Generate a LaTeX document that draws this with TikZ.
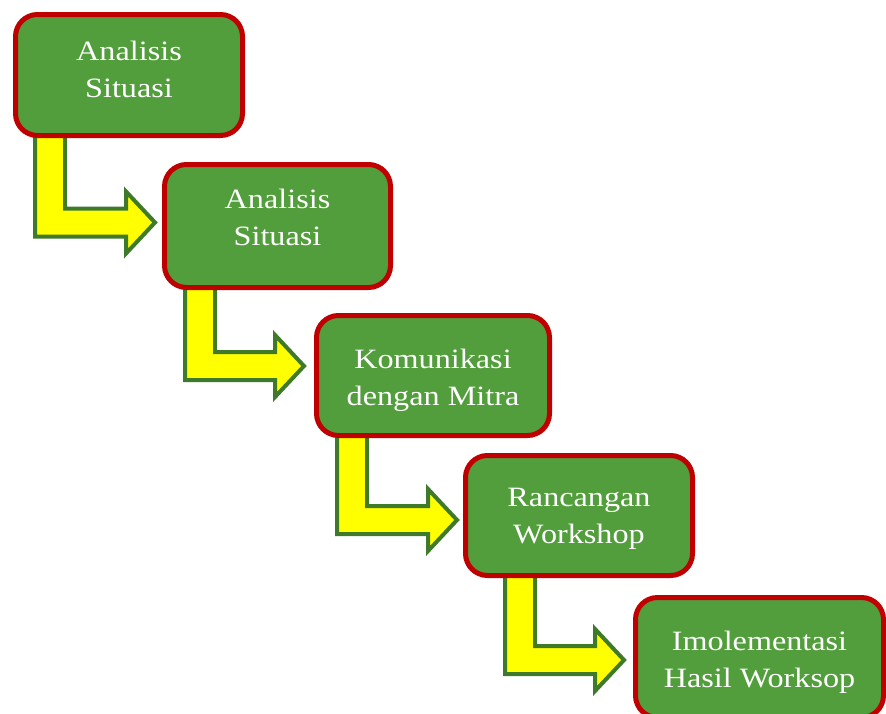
\documentclass[tikz,border=0pt]{standalone}
\usepackage{fontspec}
\setmainfont{Liberation Serif}[FakeStretch=1.15]
\usetikzlibrary{calc,backgrounds}
\definecolor{boxgreen}{RGB}{83,158,60}
\definecolor{boxred}{RGB}{192,0,0}
\definecolor{arrgreen}{RGB}{62,122,42}
\definecolor{arryellow}{RGB}{255,255,0}
\tikzset{
  stepbox/.style={draw=boxred, line width=5pt, fill=boxgreen, rounded corners=22pt,
    text=white, align=center, inner sep=0pt, text depth=0pt,
    font=\fontsize{28}{37}\selectfont},
  bentarr/.style={draw=arrgreen, line width=4pt, fill=arryellow, line join=miter}
}
% #1 source node, #2 target node, #3 shaft offset, #4 tip gap, #5 signed tip rise
\newcommand\bentarrow[5]{%
  \draw[bentarr] let \p1=(#1.south west), \p2=(#2.west) in
    ({\x1+#3pt},{\y1+6pt}) -- ({\x1+#3pt+30pt},{\y1+6pt})
    -- ({\x1+#3pt+30pt},{\y2#5pt+14pt}) -- ({\x2-#4pt-29pt},{\y2#5pt+14pt})
    -- ({\x2-#4pt-29pt},{\y2#5pt+31pt}) -- ({\x2-#4pt},{\y2#5pt})
    -- ({\x2-#4pt-29pt},{\y2#5pt-31pt}) -- ({\x2-#4pt-29pt},{\y2#5pt-14pt})
    -- ({\x1+#3pt},{\y2#5pt-14pt}) -- cycle;
}
\begin{document}
\begin{tikzpicture}[x=1pt,y=-1pt]
\useasboundingbox (0,0) rectangle (886,713);
\clip (0,0) rectangle (886,713);
\node[stepbox, minimum width=227pt, minimum height=121pt, text height=44pt] (b1) at (129,75) {Analisis\\Situasi};
\node[stepbox, minimum width=226pt, minimum height=123pt, text height=38pt] (b2) at (277.5,226) {Analisis\\Situasi};
\node[stepbox, minimum width=233pt, minimum height=120pt, text height=59pt] (b3) at (433,375.5) {Komunikasi\\dengan Mitra};
\node[stepbox, minimum width=227pt, minimum height=120pt, text height=55pt] (b4) at (579,515.5) {Rancangan\\Workshop};
\node[stepbox, minimum width=248pt, minimum height=120pt, text height=59pt] (b5) at (759.5,657.5) {Imolementasi\\Hasil Worksop};
\begin{scope}[on background layer]
\bentarrow{b1}{b2}{22}{7}{+3.5}
\bentarrow{b2}{b3}{23}{10}{+9.5}
\bentarrow{b3}{b4}{23}{6}{-4.5}
\bentarrow{b4}{b5}{42}{9}{-2.5}
\end{scope}
\end{tikzpicture}
\end{document}
